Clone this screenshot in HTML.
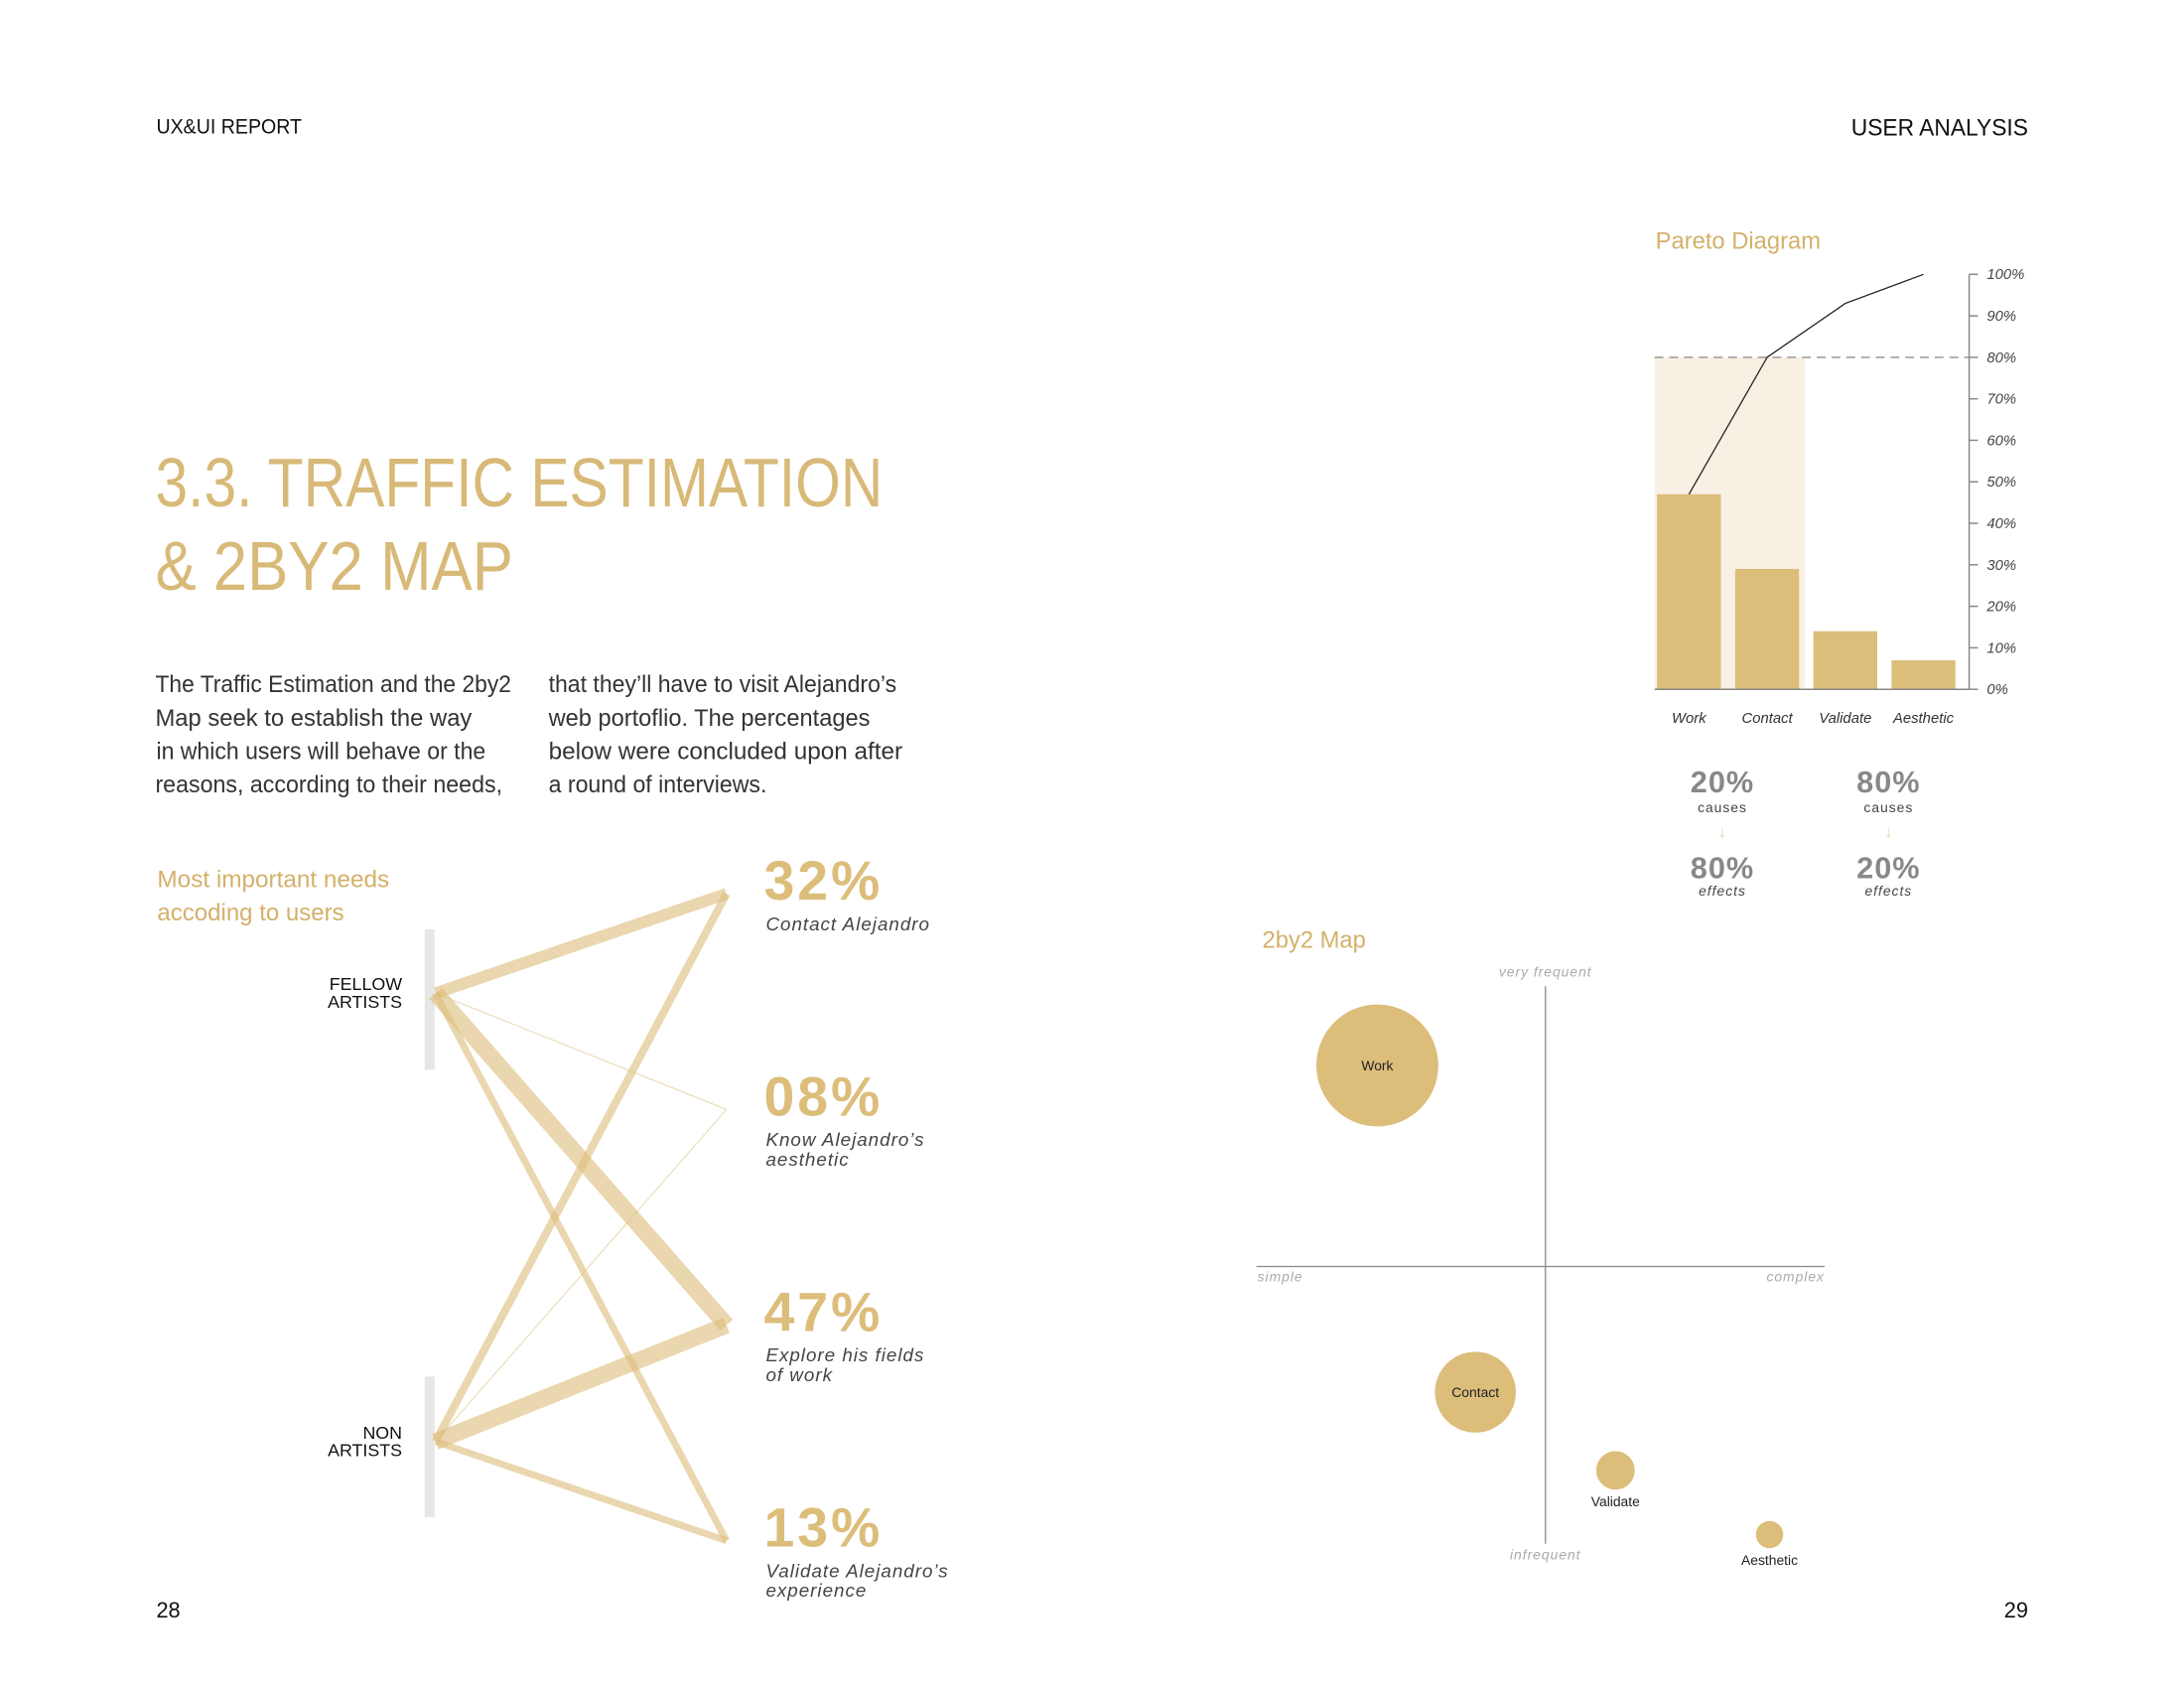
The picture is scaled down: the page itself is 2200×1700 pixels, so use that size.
<!DOCTYPE html>
<html><head><meta charset="utf-8"><style>
html,body{margin:0;padding:0;background:#fff}
svg{display:block;font-family:"Liberation Sans",sans-serif}
</style></head><body>
<svg id="page" width="2200" height="1700" viewBox="0 0 2200 1700" xmlns="http://www.w3.org/2000/svg">
<rect width="2200" height="1700" fill="#fff"/>
<g transform="scale(0.9903)">
<text x="159" y="136" font-size="21" fill="#111" textLength="148" lengthAdjust="spacingAndGlyphs">UX&amp;UI REPORT</text>
<text x="2063" y="138" font-size="24" fill="#111" text-anchor="end" textLength="180" lengthAdjust="spacingAndGlyphs">USER ANALYSIS</text>
<text x="158" y="515" font-size="70" fill="#d8b978" font-weight="300" textLength="740" lengthAdjust="spacingAndGlyphs">3.3. TRAFFIC ESTIMATION</text>
<text x="158" y="600" font-size="70" fill="#d8b978" textLength="364" lengthAdjust="spacingAndGlyphs">&amp; 2BY2 MAP</text>
<g font-size="24" fill="#333">
<text x="158" y="704" textLength="362" lengthAdjust="spacingAndGlyphs">The Traffic Estimation and the 2by2</text>
<text x="158" y="738" textLength="322" lengthAdjust="spacingAndGlyphs">Map seek to establish the way</text>
<text x="159" y="772" textLength="335" lengthAdjust="spacingAndGlyphs">in which users will behave or the</text>
<text x="158" y="806" textLength="353" lengthAdjust="spacingAndGlyphs">reasons, according to their needs,</text>
<text x="558" y="704" textLength="354" lengthAdjust="spacingAndGlyphs">that they’ll have to visit Alejandro’s</text>
<text x="558" y="738" textLength="327" lengthAdjust="spacingAndGlyphs">web portoflio. The percentages</text>
<text x="558" y="772" textLength="360" lengthAdjust="spacingAndGlyphs">below were concluded upon after</text>
<text x="558" y="806" textLength="222" lengthAdjust="spacingAndGlyphs">a round of interviews.</text>
</g>
<text x="160" y="902" font-size="24" fill="#d4b06a" textLength="236" lengthAdjust="spacingAndGlyphs">Most important needs</text>
<text x="160" y="936" font-size="24" fill="#d4b06a" textLength="190" lengthAdjust="spacingAndGlyphs">accoding to users</text>
<g id="flow"></g>
<g id="pareto"></g>
<g id="map"></g>
<text x="159" y="1645" font-size="22" fill="#111">28</text>
<text x="2063" y="1645" font-size="22" fill="#111" text-anchor="end">29</text>
</g>
</svg>
<script>
// ---- Flow diagram data ----
const flowSources = ["FELLOW ARTISTS", "NON ARTISTS"];
const flowTargets = ["Contact Alejandro", "Know Alejandro’s aesthetic", "Explore his fields of work", "Validate Alejandro’s experience"];
const flowTargetPct = ["32%", "08%", "47%", "13%"];
const flowFellow = [12, 1, 17, 7];
const flowNon = [8, 1, 17, 7];
// ---- Pareto data ----
const paretoCats = ["Work", "Contact", "Validate", "Aesthetic"];
const paretoBars = [47, 29, 14, 7];
const paretoCumulative = [47, 80, 93, 100];
const paretoTicks = ["0%","10%","20%","30%","40%","50%","60%","70%","80%","90%","100%"];
const paretoThreshold = 80;
// ---- 2by2 data ----
const mapLabels = ["Work", "Contact", "Validate", "Aesthetic"];
const mapComplexity = [-0.6, -0.25, 0.25, 0.8];
const mapFrequency = [0.72, -0.45, -0.73, -0.96];
const mapWeight = [100, 44, 10, 5];

const NS = "http://www.w3.org/2000/svg";
function mk(tag, attrs, parent, txt) {
  const e = document.createElementNS(NS, tag);
  for (const k in attrs) e.setAttribute(k, attrs[k]);
  if (txt !== undefined) e.textContent = txt;
  parent.appendChild(e);
  return e;
}
const GOLD = "#dcbd7a";

// Flow diagram
(function () {
  const g = document.getElementById("flow");
  const srcY = i => [1010, 1466][i];
  const tgtY = i => 909 + i * 219.3;
  const srcX = 443, tgtX = 739;
  const barTop = [945, 1400];
  flowSources.forEach((s, i) => {
    const b = mk("rect", {x: 432, y: barTop[i], width: 10, height: 143, fill: "#e6e6e6"}, g);
    
    
    const parts = s.split(" ");
    parts.forEach((p, j) => {
      const t = mk("text", {x: 409, y: srcY(i) + 6 + j * 18 - 9, "font-size": 18, "text-anchor": "end", fill: "#111"}, g, p);
      
      
    });
  });
  [flowFellow, flowNon].forEach((arr, si) => {
    arr.forEach((w, ti) => {
      const l = mk("line", {x1: srcX, y1: srcY(si), x2: tgtX, y2: tgtY(ti), stroke: GOLD, "stroke-width": w, "stroke-opacity": 0.6}, g);
      
      
    });
  });
  flowTargets.forEach((t, i) => {
    const y = tgtY(i);
    const p = mk("text", {x: 777, y: y + 6, "font-size": 56, "font-weight": "bold", fill: GOLD, "letter-spacing": 3}, g, flowTargetPct[i]);
    
    
    let lines = i === 0 ? [t] : i === 1 ? ["Know Alejandro’s", "aesthetic"] : i === 2 ? ["Explore his fields", "of work"] : ["Validate Alejandro’s", "experience"];
    lines.forEach((ln, j) => {
      const s = mk("text", {x: 779, y: y + 37 + j * 20, "font-size": 19, "font-style": "italic", fill: "#444", "letter-spacing": 1}, g, ln);
      
      
    });
  });
})();

// Pareto chart
(function () {
  const g = document.getElementById("pareto");
  const x0 = 1683, axisX = 2003, yBase = 701, yTop = 279;
  const yS = v => yBase - (v / 100) * (yBase - yTop);
  const slot = 79.5;
  const cx = i => 1718 + i * slot;
  const bw = 65;
  const t = mk("text", {x: 1684, y: 253, "font-size": 24, fill: "#d4b06a"}, g, "Pareto Diagram");
  
  
  const band = mk("rect", {x: x0, y: yS(paretoThreshold), width: 153, height: yBase - yS(paretoThreshold), fill: "#f7f0e3"}, g);
  
  
  paretoBars.forEach((v, i) => {
    const r = mk("rect", {x: cx(i) - bw / 2, y: yS(v), width: bw, height: yBase - yS(v), fill: GOLD}, g);
    
    
    const l = mk("text", {x: cx(i), y: yBase + 34, "font-size": 15, "font-style": "italic", fill: "#333", "text-anchor": "middle"}, g, paretoCats[i]);
    
    
  });
  const dash = mk("line", {x1: x0, y1: yS(paretoThreshold), x2: axisX, y2: yS(paretoThreshold), stroke: "#999", "stroke-width": 1.5, "stroke-dasharray": "9 6"}, g);
  
  
  const base = mk("line", {x1: x0, y1: yBase, x2: axisX, y2: yBase, stroke: "#888", "stroke-width": 1.5}, g);
  
  
  const ax = mk("line", {x1: axisX, y1: yTop, x2: axisX, y2: yBase, stroke: "#888", "stroke-width": 1.5}, g);
  
  
  paretoTicks.forEach((lab, i) => {
    const v = i * 10;
    const tk = mk("line", {x1: axisX, y1: yS(v), x2: axisX + 9, y2: yS(v), stroke: "#888", "stroke-width": 1.5}, g);
    
    
    const tl = mk("text", {x: axisX + 18, y: yS(v) + 5, "font-size": 15, "font-style": "italic", fill: "#444"}, g, lab);
    
    
  });
  const pts = paretoCumulative.map((v, i) => cx(i) + "," + yS(v)).join(" ");
  const pl = mk("polyline", {points: pts, fill: "none", stroke: "#222", "stroke-width": 1.3}, g);
  
  
  const stats = [["20%", "causes", "80%", "effects"], ["80%", "causes", "20%", "effects"]];
  stats.forEach((s, i) => {
    const x = [1752, 1921][i];
    const a = mk("text", {x, y: 806, "font-size": 31, "font-weight": "bold", fill: "#888", "text-anchor": "middle", "letter-spacing": 1}, g, s[0]);
    
    
    const b = mk("text", {x, y: 826, "font-size": 14, fill: "#444", "text-anchor": "middle", "letter-spacing": 1}, g, s[1]);
    
    
    const ar = mk("text", {x, y: 852, "font-size": 18, "font-weight": "bold", fill: "#ead9b0", "text-anchor": "middle"}, g, "↓");
    
    
    const c = mk("text", {x, y: 893, "font-size": 31, "font-weight": "bold", fill: "#888", "text-anchor": "middle", "letter-spacing": 1}, g, s[2]);
    
    
    const d = mk("text", {x, y: 911, "font-size": 14, "font-style": "italic", fill: "#444", "text-anchor": "middle", "letter-spacing": 1}, g, s[3]);
    
    
  });
})();

// 2by2 map
(function () {
  const g = document.getElementById("map");
  const cx0 = 1572, cy0 = 1288, hw = 285, hh = 284;
  const xS = v => cx0 + v * hw;
  const yS = v => cy0 - v * hh;
  const t = mk("text", {x: 1284, y: 964, "font-size": 24, fill: "#d4b06a"}, g, "2by2 Map");
  
  
  const v = mk("line", {x1: cx0, y1: 1003, x2: cx0, y2: 1570, stroke: "#888", "stroke-width": 1.3}, g);
  
  
  const h = mk("line", {x1: 1278, y1: cy0, x2: 1856, y2: cy0, stroke: "#888", "stroke-width": 1.3}, g);
  
  
  const labs = [["very frequent", cx0, 993, "middle"], ["simple", 1279, 1303, "start"], ["complex", 1856, 1303, "end"], ["infrequent", cx0, 1586, "middle"]];
  labs.forEach(l => {
    const e = mk("text", {x: l[1], y: l[2], "font-size": 14, "font-style": "italic", fill: "#aaa", "text-anchor": l[3], "letter-spacing": 1}, g, l[0]);
    
    
  });
  mapLabels.forEach((name, i) => {
    const r = 6.2 * Math.sqrt(mapWeight[i]);
    const x = xS(mapComplexity[i]), y = yS(mapFrequency[i]);
    const c = mk("circle", {cx: x, cy: y, r, fill: GOLD}, g);
    
    
    const inside = r > 30;
    const lt = mk("text", {x, y: inside ? y + 5 : y + r + 17, "font-size": 14, fill: "#222", "text-anchor": "middle"}, g, name);
    
    
  });
})();
</script>
</body></html>
